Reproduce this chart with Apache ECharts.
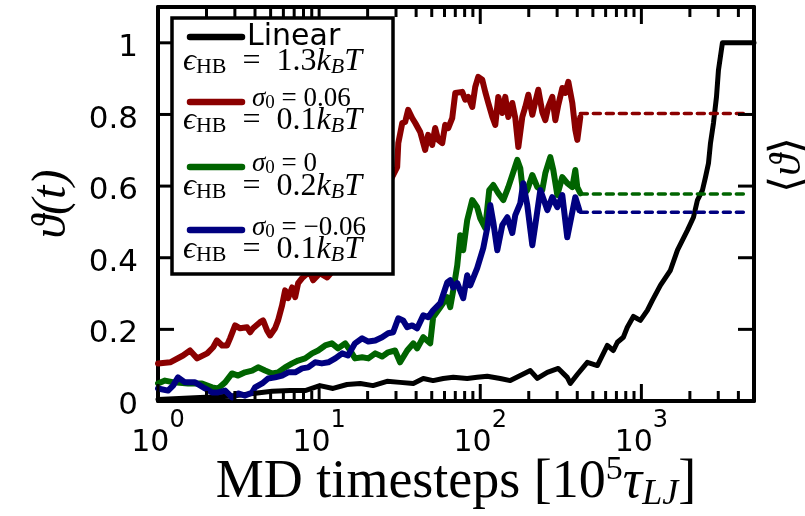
<!DOCTYPE html>
<html><head><meta charset="utf-8">
<script src="https://cdn.jsdelivr.net/npm/echarts@6/dist/echarts.min.js"></script>
<style>html,body{margin:0;padding:0;background:#fff}#c{width:805px;height:516px}</style>
</head><body><div id="c"></div>
<script>
// ---- data (x: MD timesteps [1e5 tau_LJ], y: theta(t)) ----
const linearData = [[1,0.004],[1.82,0.010],[2.80,0.013],[3.89,0.021],[5.11,0.027],[6.61,0.029],[8.19,0.029],[10.1,0.043],[12.2,0.035],[14.9,0.046],[18.0,0.049],[21.6,0.043],[26.4,0.055],[31.8,0.052],[38.4,0.049],[44.3,0.063],[51.0,0.057],[58.9,0.063],[68.0,0.066],[83.0,0.063],[95.7,0.066],[110.5,0.069],[133.1,0.063],[153.6,0.057],[177.2,0.071],[204.5,0.085],[226,0.063],[260.8,0.080],[305,0.091],[346.7,0.066],[362,0.049],[400,0.074],[462,0.108],[533,0.099],[615,0.155],[670,0.141],[710,0.164],[773,0.178],[818,0.206],[892,0.236],[986,0.225],[1089,0.253],[1170,0.281],[1312,0.323],[1514,0.365],[1675,0.421],[1933,0.477],[2106,0.513],[2229,0.561],[2395,0.589],[2500,0.625],[2609,0.664],[2685,0.720],[2802,0.776],[2925,0.849],[3009,0.924],[3184,1.0],[5000,1.0]];
const redData = [[1.0,0.105],[1.19,0.108],[1.43,0.127],[1.58,0.141],[1.75,0.119],[2.02,0.133],[2.20,0.150],[2.32,0.169],[2.50,0.155],[2.68,0.155],[2.80,0.175],[3.01,0.211],[3.23,0.203],[3.57,0.206],[3.73,0.192],[3.89,0.203],[4.30,0.220],[4.49,0.225],[4.75,0.197],[4.96,0.183],[5.33,0.203],[5.56,0.225],[5.89,0.267],[6.15,0.309],[6.42,0.287],[6.80,0.317],[7.10,0.290],[7.41,0.329],[7.84,0.343],[8.19,0.351],[8.79,0.359],[9.18,0.337],[10.1,0.357],[11.2,0.345],[12.5,0.37],[14,0.40],[16.5,0.45],[19,0.49],[22,0.53],[25,0.57],[28,0.62],[30.5,0.653],[31.0,0.720],[32.8,0.776],[34.2,0.779],[35.7,0.813],[37.8,0.790],[39.5,0.776],[42.4,0.751],[45.5,0.701],[47.5,0.743],[50.3,0.715],[52.5,0.762],[54.8,0.729],[58.1,0.720],[60.6,0.771],[63.3,0.762],[67.0,0.790],[70.0,0.860],[77.3,0.863],[80.7,0.841],[84.2,0.849],[89.2,0.821],[93.1,0.877],[97.2,0.905],[102.9,0.897],[107.4,0.863],[112.2,0.832],[118.9,0.793],[124.0,0.771],[129.4,0.849],[137.0,0.804],[143.0,0.849],[149.3,0.793],[158.1,0.832],[165.0,0.790],[172.3,0.709],[182.4,0.793],[190.4,0.821],[198.8,0.855],[210.5,0.799],[219.6,0.835],[229.3,0.869],[242.8,0.806],[253.4,0.784],[264.5,0.821],[280.1,0.849],[292.4,0.784],[305.2,0.827],[323.2,0.874],[337.3,0.860],[352.1,0.891],[372.8,0.832],[389.1,0.757],[400.4,0.729],[417.9,0.793]];
const greenData = [[1.0,0.049],[1.105,0.057],[1.257,0.052],[1.536,0.049],[1.876,0.049],[2.164,0.038],[2.36,0.035],[2.61,0.052],[2.88,0.077],[3.14,0.071],[3.47,0.080],[3.84,0.085],[4.18,0.094],[4.62,0.085],[5.11,0.077],[5.56,0.080],[6.15,0.094],[6.80,0.105],[7.41,0.113],[8.19,0.119],[9.05,0.133],[9.86,0.141],[10.9,0.155],[12.0,0.161],[13.1,0.147],[14.5,0.161],[15.6,0.141],[16.7,0.119],[18.5,0.122],[20.2,0.119],[22.3,0.133],[24.6,0.124],[26.8,0.136],[29.6,0.141],[31.8,0.108],[35.2,0.141],[38.4,0.161],[40.6,0.147],[44.3,0.178],[48.9,0.161],[51.0,0.234],[56.5,0.262],[62.4,0.290],[65.1,0.262],[68.0,0.309],[72.0,0.379],[75.2,0.463],[78.4,0.421],[83.0,0.505],[89.2,0.561],[95.7,0.541],[100,0.510],[107.4,0.483],[113.7,0.589],[120.5,0.603],[129.4,0.580],[139.0,0.561],[149.3,0.597],[160.3,0.639],[169.8,0.673],[177.2,0.650],[184.9,0.575],[195.8,0.589],[210.4,0.631],[226.0,0.597],[242.7,0.589],[253.4,0.636],[272.1,0.681],[284,0.645],[300.8,0.575],[323,0.625],[346.7,0.608],[372.5,0.597],[389,0.645],[400,0.597],[418,0.580]];
const blueData = [[1.0,0.035],[1.154,0.029],[1.24,0.043],[1.331,0.066],[1.471,0.052],[1.698,0.052],[1.958,0.035],[2.164,0.024],[2.36,0.024],[2.61,0.029],[2.88,0.010],[3.14,0.021],[3.47,0.015],[3.84,0.024],[4.0,0.038],[4.43,0.049],[4.82,0.063],[5.33,0.066],[5.89,0.071],[6.42,0.080],[7.10,0.080],[7.84,0.091],[8.55,0.094],[9.44,0.108],[10.4,0.105],[11.4,0.108],[12.6,0.119],[13.9,0.133],[15.1,0.127],[16.7,0.161],[18.5,0.175],[20.2,0.166],[22.3,0.169],[24.6,0.178],[26.8,0.189],[28.8,0.192],[31.0,0.231],[33.2,0.225],[35.2,0.206],[37.8,0.211],[40.6,0.203],[44.3,0.239],[47.5,0.234],[51.0,0.253],[56.5,0.273],[62.4,0.331],[65.1,0.337],[68.0,0.317],[72.0,0.329],[78.4,0.287],[83.0,0.351],[86.7,0.323],[95.7,0.371],[104.4,0.427],[110.5,0.483],[115.4,0.547],[120.5,0.499],[127.6,0.421],[137.0,0.491],[147.2,0.513],[158.1,0.469],[165.0,0.519],[177.2,0.552],[184.9,0.608],[195.8,0.547],[210.4,0.435],[219.6,0.491],[236,0.589],[260.8,0.533],[280,0.569],[300.8,0.541],[323,0.575],[346.7,0.457],[372.5,0.527],[389,0.569],[412,0.533]];
const meanRed = 0.803, meanGreen = 0.578, meanBlue = 0.527;
const meanRange = [418, 4600];
const xMajorTicks = [1, 10, 100, 1000];
const xMinorTicks = [2,3,4,5,6,7,8,9,20,30,40,50,60,70,80,90,200,300,400,500,600,700,800,900,2000,3000,4000];
const yTicks = [0, 0.2, 0.4, 0.6, 0.8, 1];
const xRange = [1, 5000], yRange = [0, 1.1];

const C = {black:'#000000', red:'#8b0000', green:'#006400', blue:'#000080'};
const chart = echarts.init(document.getElementById('c'), null, {renderer:'canvas'});
const serif = "'Liberation Serif', 'DejaVu Serif', serif";
const sans = "'DejaVu Sans', sans-serif";

function xAx(pos, labels) {
  return {
    type:'log', logBase:10, min:xRange[0], max:xRange[1], position:pos, gridIndex:0,
    axisLine:{show:true, onZero:false, lineStyle:{color:'#000', width:4}},
    axisTick:{show:false},
    axisLabel: labels ? {show:true, customValues:xMajorTicks, margin:8, color:'#000', fontFamily:sans, fontSize:30, lineHeight:68,
      formatter: v => '10{sup|' + Math.round(Math.log10(v)) + '}',
      rich:{sup:{fontSize:24, fontFamily:sans, verticalAlign:'top', lineHeight:24, color:'#000'}}} : {show:false},
    splitLine:{show:false}, minorTick:{show:false},
    name: labels ? 'MD timesteps [10{sup|5}{it|τ}{sub|LJ}]' : '',
    nameLocation:'middle', nameGap:52, nameMoveOverlap:false,
    nameTextStyle:{color:'#000', fontFamily:serif, fontSize:54, lineHeight:60,
      rich:{sup:{fontSize:34, fontFamily:serif, verticalAlign:'top', lineHeight:34, color:'#000'},
            it:{fontSize:54, fontFamily:serif, fontStyle:'italic', color:'#000'},
            sub:{fontSize:36, fontFamily:serif, fontStyle:'italic', verticalAlign:'bottom', lineHeight:44, color:'#000'}}}
  };
}
function yAx(pos, labels) {
  return {
    type:'value', min:yRange[0], max:yRange[1], interval:0.2, position:pos, gridIndex:0,
    axisLine:{show:true, onZero:false, lineStyle:{color:'#000', width:4}},
    axisTick:{show:false},
    axisLabel: labels ? {show:true, customValues:yTicks, margin:20, color:'#000', fontFamily:sans, fontSize:31,
      formatter: v => '{a|' + v + '}', rich:{a:{fontFamily:sans, fontSize:31, color:'#000', padding:[10,0,0,0]}}} : {show:false},
    splitLine:{show:false},
    name: labels ? 'ϑ(t)' : '', nameLocation:'middle', nameGap:82, nameMoveOverlap:false,
    nameTextStyle:{color:'#000', fontFamily:serif, fontStyle:'italic', fontSize:48}
  };
}

function line(name, data, color, w) {
  return {name, type:'line', data, xAxisIndex:0, yAxisIndex:0, showSymbol:false, symbol:'none',
    lineStyle:{color, width:w, cap:'round', join:'round'}, z:3, silent:true};
}
function meanLine(name, val, color) {
  return {name, type:'line', data:[[meanRange[0], val],[meanRange[1], val]], xAxisIndex:0, yAxisIndex:0, showSymbol:false, symbol:'none',
    lineStyle:{color, width:3.5, type:[7,6], cap:'round'}, z:4, silent:true};
}

const epsRich = {
  i:{fontFamily:serif, fontStyle:'italic', fontSize:32, fill:'#000'},
  n:{fontFamily:serif, fontSize:32, fill:'#000'},
  s:{fontFamily:serif, fontSize:22, verticalAlign:'bottom', lineHeight:32, fill:'#000'},
  si:{fontFamily:serif, fontStyle:'italic', fontSize:22, verticalAlign:'bottom', lineHeight:32, fill:'#000'}
};
const sigRich = {
  i:{fontFamily:serif, fontStyle:'italic', fontSize:27, fill:'#000'},
  n:{fontFamily:serif, fontSize:27, fill:'#000'},
  s:{fontFamily:serif, fontSize:19, verticalAlign:'bottom', lineHeight:28, fill:'#000'}
};
function eps(val, y) {
  return {type:'text', x:183, y, z:101, style:{text:'{i|ϵ}{s|HB}{n|  =  ' + val + '}{i|k}{si|B}{i|T}', rich:epsRich, textVerticalAlign:'middle', textAlign:'left', fontSize:32, fontFamily:serif}};
}
function sig(val, y) {
  return {type:'text', x:252, y, z:101, style:{text:'{i|σ}{s|0}{n| = ' + val + '}', rich:sigRich, textVerticalAlign:'middle', textAlign:'left', fontSize:27, fontFamily:serif}};
}
function sample(color, y) {
  return {type:'line', z:101, shape:{x1:190, y1:y, x2:242, y2:y}, style:{stroke:color, lineWidth:6.5, lineCap:'round'}};
}

chart.setOption({
  animation:false,
  backgroundColor:'#fff',
  grid:{left:158, right:51, top:7, bottom:115, containLabel:false, outerBoundsMode:'none'},
  xAxis:[xAx('bottom', true), xAx('top', false)],
  yAxis:[yAx('left', true), yAx('right', false)],
  series:[
    line('Linear', linearData, C.black, 5),
    line('σ0 = 0.06', redData, C.red, 6),
    line('σ0 = 0', greenData, C.green, 6),
    line('σ0 = -0.06', blueData, C.blue, 6),
    meanLine('mean red', meanRed, C.red),
    meanLine('mean green', meanGreen, C.green),
    meanLine('mean blue', meanBlue, C.blue)
  ]
});

// frame ticks (inward), placed through the axes' scales via convertToPixel
const finder = {xAxisIndex:0, yAxisIndex:0};
const tickEls = [];
function tk(x1, y1, x2, y2) {
  tickEls.push({type:'line', z:50, shape:{x1, y1, x2, y2}, style:{stroke:'#000', lineWidth:3}});
}
xMajorTicks.forEach(v => {
  const b = chart.convertToPixel(finder, [v, yRange[0]]);
  const t = chart.convertToPixel(finder, [v, yRange[1]]);
  tk(b[0], b[1], b[0], b[1] - 17); tk(t[0], t[1], t[0], t[1] + 17);
});
xMinorTicks.forEach(v => {
  const b = chart.convertToPixel(finder, [v, yRange[0]]);
  const t = chart.convertToPixel(finder, [v, yRange[1]]);
  tk(b[0], b[1], b[0], b[1] - 10); tk(t[0], t[1], t[0], t[1] + 10);
});
yTicks.forEach(v => {
  const l = chart.convertToPixel(finder, [xRange[0], v]);
  const r = chart.convertToPixel(finder, [xRange[1], v]);
  tk(l[0], l[1], l[0] + 16, l[1]); tk(r[0], r[1], r[0] - 16, r[1]);
});

chart.setOption({
  graphic: tickEls.concat([
    {type:'rect', z:100, shape:{x:172, y:18, width:221, height:256}, style:{fill:'#fff', stroke:'#000', lineWidth:3.5}},
    sample(C.black, 37),
    {type:'text', x:247, y:37, z:101, style:{text:'Linear', font:"30px 'DejaVu Sans'", fill:'#000', textVerticalAlign:'middle'}},
    eps('1.3', 62),
    sample(C.red, 102), sig('0.06', 99), eps('0.1', 121),
    sample(C.green, 167), sig('0', 164), eps('0.2', 187),
    sample(C.blue, 230), sig('−0.06', 228), eps('0.1', 250),
    {type:'text', x:788, y:165, rotation:Math.PI/2, z:101, style:{text:'⟨{i|ϑ}⟩', font:"44px 'Liberation Serif', 'DejaVu Serif'", fill:'#000', textAlign:'center', textVerticalAlign:'middle',
      rich:{i:{fontStyle:'italic', fontSize:44, fontFamily:serif, fill:'#000'}}}}
  ])
});
</script></body></html>
